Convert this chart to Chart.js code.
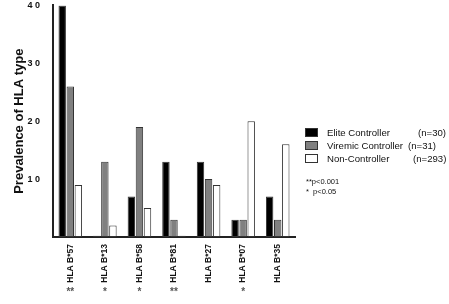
<!DOCTYPE html>
<html>
<head>
<meta charset="utf-8">
<script src="https://cdn.jsdelivr.net/npm/chart.js@4"></script>
<style>
  html, body { margin: 0; padding: 0; background: #fff; }
  #wrap { position: relative; width: 449px; height: 304px; }
  #legend { position: absolute; left: 305px; top: 127px; font-family: "Liberation Sans", Arial, sans-serif; font-size: 9.6px; color: #111; }
  .row { position: relative; height: 13px; }
  .box { position: absolute; left: 0; top: 1px; width: 11px; height: 7px; border: 1px solid #333; }
  .name { position: absolute; left: 22px; top: 0; white-space: nowrap; }
  .n { position: absolute; top: 0; white-space: nowrap; }
  #notes { position: absolute; left: 306px; top: 177px; font-family: "Liberation Sans", Arial, sans-serif; font-size: 7.5px; line-height: 10px; color: #111; }
</style>
</head>
<body>
<div id="wrap">
  <canvas id="chart" width="449" height="304"></canvas>
  <div id="legend"></div>
  <div id="notes">**p&lt;0.001<br>*&nbsp; p&lt;0.05</div>
</div>
<script>
const categories = ['HLA B*57', 'HLA B*13', 'HLA B*58', 'HLA B*81', 'HLA B*27', 'HLA B*07', 'HLA B*35'];
const significance = ['**', '*', '*', '**', '', '*', ''];
const elite = [40, 0.2, 7, 13, 13, 3, 7];
const viremic = [26, 13, 19, 3, 10, 3, 3];
const nonController = [9, 2, 5, 0.2, 9, 20, 16];
const yTickLabels = ['', '1 0', '2 0', '3 0', '4 0'];
const seriesNames = ['Elite Controller', 'Viremic Controller', 'Non-Controller'];
const seriesN = ['(n=30)', '(n=31)', '(n=293)'];
const seriesColors = ['#000000', '#808080', '#ffffff'];
const nOffsets = [113, 103, 108];

// html legend
const legend = document.getElementById('legend');
seriesNames.forEach((name, i) => {
  const row = document.createElement('div');
  row.className = 'row';
  row.innerHTML = '<span class="box" style="background:' + seriesColors[i] + '"></span>' +
    '<span class="name">' + name + '</span>' +
    '<span class="n" style="left:' + nOffsets[i] + 'px">' + seriesN[i] + '</span>';
  legend.appendChild(row);
});

// stars under each category
const starsPlugin = {
  id: 'stars',
  afterDraw(chart) {
    const ctx = chart.ctx;
    const x = chart.scales.x;
    ctx.save();
    ctx.font = 'bold 10px "Liberation Sans", Arial, sans-serif';
    ctx.fillStyle = '#555';
    ctx.textAlign = 'center';
    ctx.textBaseline = 'middle';
    significance.forEach((s, i) => {
      ctx.fillText(s, x.getPixelForValue(i), 292);
    });
    ctx.restore();
  }
};

const bar = (label, data, color) => ({
  label: label,
  data: data,
  backgroundColor: color,
  borderColor: '#333',
  borderWidth: 1,
  borderSkipped: false,
  barPercentage: 0.92,
  categoryPercentage: 0.7,
});

new Chart(document.getElementById('chart').getContext('2d'), {
  type: 'bar',
  data: {
    labels: categories,
    datasets: [
      bar(seriesNames[0], elite, seriesColors[0]),
      bar(seriesNames[1], viremic, seriesColors[1]),
      bar(seriesNames[2], nonController, seriesColors[2]),
    ],
  },
  options: {
    responsive: false,
    animation: false,
    layout: { padding: { left: 12, top: -2, right: 154, bottom: 0 } },
    plugins: {
      legend: { display: false },
      tooltip: { enabled: false },
    },
    scales: {
      x: {
        afterFit: (s) => { s.height = 67; },
        grid: { display: false, drawTicks: false },
        border: { color: '#222', width: 2 },
        ticks: {
          color: '#111',
          font: { family: '"Liberation Sans", Arial, sans-serif', size: 8.5, weight: 'bold' },
          minRotation: 90,
          maxRotation: 90,
          padding: 7,
        },
      },
      y: {
        min: 0,
        max: 40,
        afterFit: (s) => { s.width = 41; },
        grid: { display: false, drawTicks: true, tickLength: 13, tickColor: 'rgba(0,0,0,0)' },
        border: { color: '#222', width: 2 },
        title: {
          display: true,
          text: 'Prevalence of HLA type',
          color: '#111',
          font: { family: '"Liberation Sans", Arial, sans-serif', size: 13, weight: 'bold' },
          padding: { top: 0, bottom: 0 },
        },
        ticks: {
          stepSize: 10,
          color: '#111',
          padding: 0,
          font: { family: '"Liberation Sans", Arial, sans-serif', size: 9, weight: 'bold' },
          callback: (v, i) => yTickLabels[i],
        },
      },
    },
  },
  plugins: [starsPlugin],
});
</script>
</body>
</html>
